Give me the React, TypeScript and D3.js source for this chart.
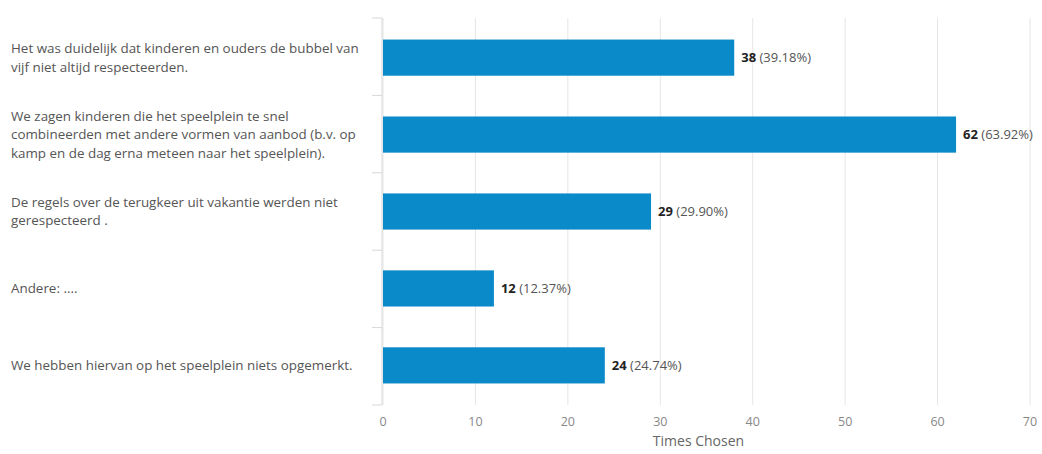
import React from "react";
import * as d3 from "d3";

const categories: string[][] = [
  ["Het was duidelijk dat kinderen en ouders de bubbel van", "vijf niet altijd respecteerden."],
  ["We zagen kinderen die het speelplein te snel", "combineerden met andere vormen van aanbod (b.v. op", "kamp en de dag erna meteen naar het speelplein)."],
  ["De regels over de terugkeer uit vakantie werden niet", "gerespecteerd ."],
  ["Andere: ...."],
  ["We hebben hiervan op het speelplein niets opgemerkt."],
];
const counts: number[] = [38, 62, 29, 12, 24];
const percents: string[] = ["39.18%", "63.92%", "29.90%", "12.37%", "24.74%"];
const xTicks: number[] = [0, 10, 20, 30, 40, 50, 60, 70];
const xTitle = "Times Chosen";

export default function App() {
  const W = 1042, H = 454;
  const left = 383, right = 1030, top = 18, bottom = 405;
  const x = d3.scaleLinear().domain([0, 70]).range([left, right]);
  const y = d3.scaleBand<number>().domain(d3.range(categories.length)).range([top, bottom]).paddingInner(0.53).paddingOuter(0.28);
  const band = d3.scaleBand<number>().domain(d3.range(categories.length)).range([top, bottom]);
  const font = "'Open Sans', sans-serif";
  const lh = 18.5;
  return (
    <svg width={W} height={H} style={{ position: "absolute", left: 0, top: 0, background: "#fff" }}>
      {xTicks.map((t) => (
        <line key={"g" + t} x1={x(t)} x2={x(t)} y1={top} y2={bottom} stroke="#e6e6e6" strokeWidth={1} />
      ))}
      <line x1={left - 1} x2={left - 1} y1={top} y2={bottom} stroke="#d8d8d8" />
      {d3.range(categories.length + 1).map((i) => {
        const yy = i < categories.length ? band(i)! : bottom;
        return <line key={"t" + i} x1={left - 11} x2={left - 1} y1={yy} y2={yy} stroke="#d8d8d8" />;
      })}
      {counts.map((c, i) => {
        const cy = y(i)! + y.bandwidth() / 2;
        const lines = categories[i];
        return (
          <g key={"b" + i}>
            <rect x={x(0)} y={y(i)} width={x(c) - x(0)} height={y.bandwidth()} fill="#0b8ac9" />
            <text x={x(c) + 7} y={cy} dy="0.35em" fontFamily={font} fontSize={13} fill="#555">
              <tspan fontWeight="bold" fill="#222">{c}</tspan>
              <tspan> ({percents[i]})</tspan>
            </text>
            <text fontFamily={font} fontSize={13.4} fill="#555">
              {lines.map((l, k) => (
                <tspan key={k} x={11} y={cy + (k - (lines.length - 1) / 2) * lh} dy="0.35em">{l}</tspan>
              ))}
            </text>
          </g>
        );
      })}
      {xTicks.map((t) => (
        <text key={"l" + t} x={x(t)} y={422} dy="0.35em" textAnchor="middle" fontFamily={font} fontSize={12.5} fill="#888">{t}</text>
      ))}
      <text x={(left + right) / 2 - 8} y={441} dy="0.35em" textAnchor="middle" fontFamily={font} fontSize={14} fill="#666">{xTitle}</text>
    </svg>
  );
}
